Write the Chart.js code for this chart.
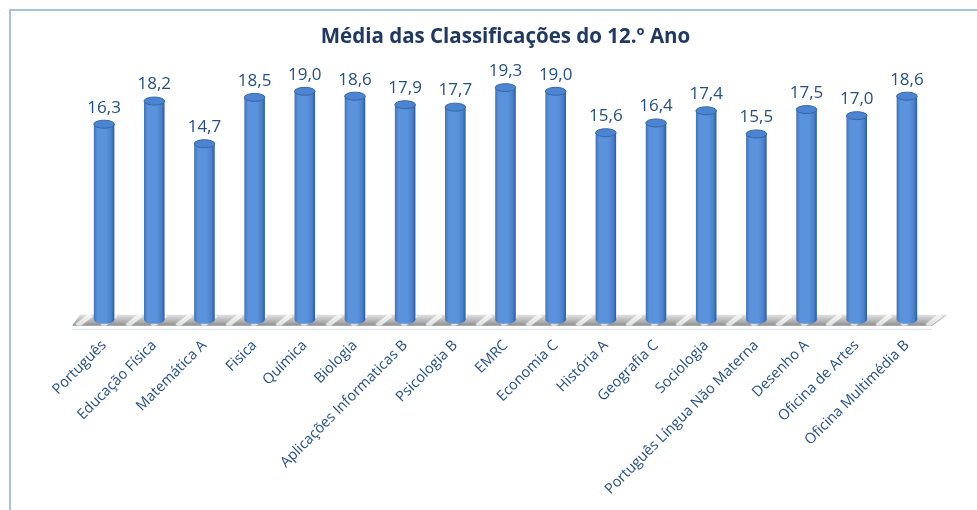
<!DOCTYPE html>
<html>
<head>
<meta charset="utf-8">
<script src="https://cdn.jsdelivr.net/npm/chart.js@4.4.1/dist/chart.umd.min.js"></script>
<style>
  html, body { margin: 0; padding: 0; background: #fff; overflow: hidden; }
  #frame {
    position: absolute; left: 9px; top: 9px; width: 1000px; height: 600px;
    border-left: 2px solid #a7c0e0; border-top: 2px solid #a7c0e0;
  }
  #wrap { position: absolute; left: 0; top: 0; width: 995px; height: 510px; }
</style>
</head>
<body>
<div id="frame"></div>
<div id="wrap"><canvas id="chart"></canvas></div>
<script>
const subjects = [
  "Português", "Educação Física", "Matemática A", "Fisica", "Química",
  "Biologia", "Aplicações Informaticas B", "Psicologia B", "EMRC",
  "Economia C", "História A", "Geografia C", "Sociologia",
  "Português Língua Não Materna", "Desenho A", "Oficina de Artes",
  "Oficina Multimédia B"
];
const averages = [
  16.3, 18.2, 14.7, 18.5, 19.0, 18.6, 17.9, 17.7, 19.3,
  19.0, 15.6, 16.4, 17.4, 15.5, 17.5, 17.0, 18.6
];

const TEXT = "#24508a";
const FONT = "'Open Sans', 'Liberation Sans', sans-serif";

// gray striped floor under the bars
const floorPlugin = {
  id: "floor",
  beforeDatasetsDraw(chart) {
    const { ctx, chartArea } = chart;
    const y0 = chartArea.bottom - 8, y1 = chartArea.bottom + 3;
    const x0 = chartArea.left - 7, x1 = chartArea.right + 8;
    ctx.save();
    ctx.beginPath();
    ctx.moveTo(x0 + 8, y0);
    ctx.lineTo(x1 + 8, y0);
    ctx.lineTo(x1 - 8, y1);
    ctx.lineTo(x0, y1);
    ctx.closePath();
    const g = ctx.createLinearGradient(0, y0, 0, y1);
    g.addColorStop(0, "#e0e0e0");
    g.addColorStop(0.6, "#b0b0b0");
    g.addColorStop(1, "#8c8c8c");
    ctx.fillStyle = g;
    ctx.fill();
    ctx.clip();
    ctx.strokeStyle = "rgba(255,255,255,0.7)";
    ctx.lineWidth = 5;
    for (let x = x0 - 20; x < x1 + 20; x += 25) {
      ctx.beginPath();
      ctx.moveTo(x + 14, y0);
      ctx.lineTo(x, y1);
      ctx.stroke();
    }
    ctx.restore();
    ctx.save();
    ctx.strokeStyle = "#d6e0f0";
    ctx.lineWidth = 1;
    ctx.beginPath();
    ctx.moveTo(x0, y1 + 3.5);
    ctx.lineTo(x1 - 8, y1 + 3.5);
    ctx.stroke();
    ctx.restore();
  }
};

// draws each bar as a cylinder plus its value label
const cylinderPlugin = {
  id: "cylinder",
  afterDatasetsDraw(chart) {
    const { ctx } = chart;
    const meta = chart.getDatasetMeta(0);
    meta.data.forEach((bar, i) => {
      const w = bar.width, x = bar.x, top = bar.y, base = bar.base - 3;
      const left = x - w / 2, right = x + w / 2;
      const ry = 4;
      ctx.save();
      const g = ctx.createLinearGradient(left, 0, right, 0);
      g.addColorStop(0, "#3f72bd");
      g.addColorStop(0.18, "#5a93dc");
      g.addColorStop(0.6, "#5a93dc");
      g.addColorStop(0.85, "#4a80cc");
      g.addColorStop(1, "#2e5a9c");
      ctx.fillStyle = g;
      ctx.beginPath();
      ctx.moveTo(left, top);
      ctx.lineTo(left, base);
      ctx.ellipse(x, base, w / 2, ry, 0, Math.PI, 0, true);
      ctx.lineTo(right, top);
      ctx.closePath();
      ctx.fill();
      // top cap
      ctx.beginPath();
      ctx.ellipse(x, top, w / 2, ry, 0, 0, Math.PI * 2);
      ctx.fillStyle = "#4c84d2";
      ctx.fill();
      ctx.strokeStyle = "#3567ad";
      ctx.lineWidth = 1;
      ctx.stroke();
      // value
      ctx.fillStyle = TEXT;
      ctx.font = "17px " + FONT;
      ctx.textAlign = "center";
      ctx.textBaseline = "bottom";
      ctx.fillText(averages[i].toFixed(1).replace(".", ","), x, top - 8);
      ctx.restore();
    });
  }
};

new Chart(document.getElementById("chart"), {
  type: "bar",
  data: {
    labels: subjects,
    datasets: [{
      data: averages,
      backgroundColor: "rgba(0,0,0,0)",
      borderWidth: 0,
      barPercentage: 0.82,
      categoryPercentage: 0.5
    }]
  },
  options: {
    responsive: true,
    maintainAspectRatio: false,
    animation: false,
    layout: { padding: { left: 79, right: 63, top: 0, bottom: 6 } },
    scales: {
      x: {
        grid: { display: false },
        border: { display: false },
        ticks: {
          color: TEXT,
          font: { family: FONT, size: 14.5 },
          minRotation: 45,
          maxRotation: 45,
          autoSkip: false,
          padding: 6
        }
      },
      y: { display: false, min: 0, max: 20 }
    },
    plugins: {
      legend: { display: false },
      tooltip: { enabled: false },
      title: {
        display: true,
        text: "Média das Classificações do 12.º Ano",
        color: "#1f3864",
        font: { family: FONT, size: 20.5, weight: "bold" },
        padding: { top: 25, bottom: 29.5 }
      }
    }
  },
  plugins: [floorPlugin, cylinderPlugin]
});
</script>
</body>
</html>
